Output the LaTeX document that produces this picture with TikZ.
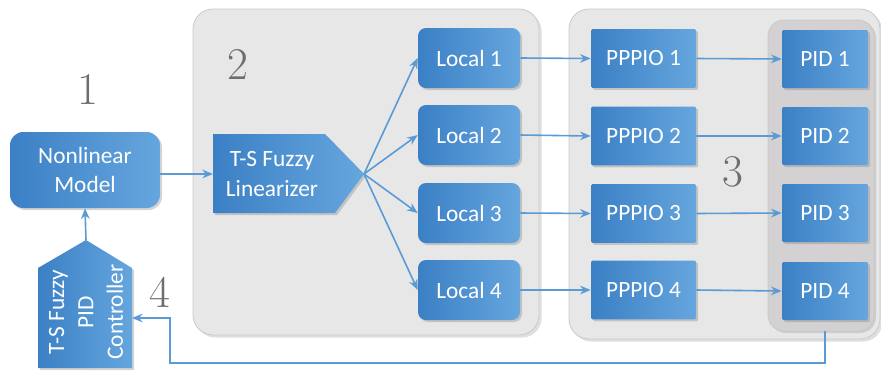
\documentclass[tikz,border=0pt]{standalone}
\usepackage{fontspec}
\newfontfamily\boxfont{Carlito}
\usetikzlibrary{shadows,arrows.meta}
\definecolor{boxL}{HTML}{3B80C5}
\definecolor{boxR}{HTML}{66A6DE}
\definecolor{wire}{HTML}{5B9BD5}
\definecolor{panel}{HTML}{E7E7E7}
\definecolor{panelEdge}{HTML}{C9C9C9}
\definecolor{inner}{HTML}{D3D1D1}
\definecolor{numgray}{HTML}{6E6E6E}
\tikzset{
  bluebox/.style={left color=boxL, right color=boxR, draw=none,
    text=white, font=\boxfont\fontsize{17.5}{22}\selectfont, align=center,
    drop shadow={shadow xshift=1.5pt, shadow yshift=-1.5pt, opacity=0.35}},
  localbox/.style={bluebox, rounded corners=6pt, minimum width=76.5pt, minimum height=45pt},
  pppiobox/.style={bluebox, rounded corners=1pt, minimum width=78.75pt, minimum height=44pt},
  pidbox/.style={bluebox, rounded corners=1pt, minimum width=64.5pt, minimum height=43.5pt},
  shapetext/.style={text=white, font=\boxfont\fontsize{17.5}{22}\selectfont, align=center},
  panelbox/.style={fill=panel, draw=panelEdge, line width=0.6pt, rounded corners=15pt,
    drop shadow={shadow xshift=2pt, shadow yshift=-2pt, opacity=0.25}},
  innerpanel/.style={fill=inner, draw=panelEdge, line width=0.6pt, rounded corners=12pt,
    drop shadow={shadow xshift=1.5pt, shadow yshift=-1.5pt, opacity=0.25}},
  wirearrow/.style={draw=wire, line width=1.2pt, -{Stealth[length=8pt, width=6.5pt]}},
  stagenum/.style={text=numgray, font=\fontsize{34}{36}\selectfont}
}
\begin{document}
\begin{tikzpicture}[x=0.75pt, y=-0.75pt]
\useasboundingbox (0,0) rectangle (881,372);

% stage panels
\path[panelbox] (193,9) rectangle (539,335);
\path[panelbox] (569,9) rectangle (880,339);
\path[innerpanel] (768,20) rectangle (874,331);

% stage numbers
\node[stagenum] (n1) at (88,90) {1};
\node[stagenum] (n2) at (238,65) {2};
\node[stagenum] (n3) at (733,172) {3};
\node[stagenum] (n4) at (160,292) {4};

% plant
\node[bluebox, rounded corners=10pt, minimum width=112.5pt, minimum height=57pt] (nl) at (85,170) {Nonlinear\\Model};

% T-S fuzzy linearizer (arrow-shaped block)
\path[left color=boxL, right color=boxR, drop shadow={shadow xshift=1.5pt, shadow yshift=-1.5pt, opacity=0.35}]
  (213,134) -- (325,134) -- (364,174) -- (335,213) -- (213,213) -- cycle;
\node[shapetext] (lin) at (272,174) {T-S Fuzzy\\Linearizer};
\coordinate (linin) at (213,174);
\coordinate (lintip) at (364,174);

% T-S fuzzy PID controller (house-shaped block)
\path[left color=boxL, right color=boxR, drop shadow={shadow xshift=1.5pt, shadow yshift=-1.5pt, opacity=0.35}]
  (38,368) -- (38,268) -- (86,240) -- (132,268) -- (132,368) -- cycle;
\node[shapetext, rotate=90] (ctl) at (86,312) {T-S Fuzzy\\PID\\Controller};
\coordinate (ctltop) at (86,240);
\coordinate (ctlin) at (132,318);

% local models
\node[localbox] (l1) at (469,58) {Local 1};
\node[localbox] (l2) at (469,135) {Local 2};
\node[localbox] (l3) at (469,213) {Local 3};
\node[localbox] (l4) at (469,290) {Local 4};

% PPPIO blocks
\node[pppiobox] (p1) at (643.5,58.5) {PPPIO 1};
\node[pppiobox] (p2) at (643.5,136) {PPPIO 2};
\node[pppiobox] (p3) at (643.5,213.5) {PPPIO 3};
\node[pppiobox] (p4) at (643.5,290) {PPPIO 4};

% PID blocks
\node[pidbox] (c1) at (825,59) {PID 1};
\node[pidbox] (c2) at (825,136) {PID 2};
\node[pidbox] (c3) at (825,213) {PID 3};
\node[pidbox] (c4) at (825,291) {PID 4};

% signal flow
\draw[wirearrow] (nl.east |- linin) -- (linin);
\foreach \i in {1,2,3,4} {
  \draw[wirearrow] (lintip) -- (l\i.west);
  \draw[wirearrow] (l\i.east) -- (p\i.west);
  \draw[wirearrow] (p\i.east) -- (c\i.west);
}

% feedback path
\coordinate (fb1) at (825,363);
\coordinate (fb2) at (170,363);
\coordinate (fb3) at (170,318);
\draw[wirearrow] (c4.south) ++(0,-8pt) -- (fb1) -- (fb2) -- (fb3) -- (ctlin);
\draw[wirearrow] (ctltop) -- (nl.south);
\end{tikzpicture}
\end{document}
